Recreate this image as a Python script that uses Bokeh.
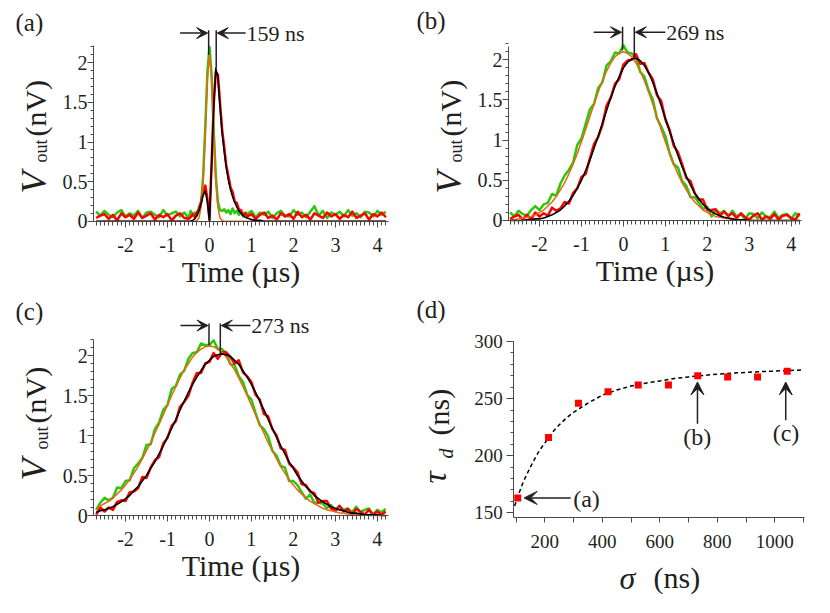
from bokeh.plotting import figure
from bokeh.models import Range1d, FixedTicker, Label, Arrow, VeeHead, CustomJSTickFormatter
from bokeh.layouts import column, row
from bokeh.embed import file_html
from bokeh.resources import INLINE

FONT = "Liberation Serif"
TXT = "#231f20"
AXC = "#4a4a4a"
GREEN = "#2ac80a"
RED = "#ff0000"
ORANGE = "#ec6410"
BLACK = "#000000"
ROT = 1.5708

# ---------------- data ----------------
# time samples (µs)
t_grid = [round(-2.7 + 0.1 * i, 2) for i in range(70)]
t_grid_a = ([round(-2.7 + 0.1 * i, 2) for i in range(23)]
            + [round(-0.45 + 0.05 * i, 2) for i in range(28)]
            + [round(1.0 + 0.1 * i, 2) for i in range(33)])

# panel (a)
green_a = [0.12, 0.07, 0.13, 0.08, 0.05, 0.11, 0.14, 0.06, 0.10, 0.07, 0.13, 0.04, 0.11, 0.12, 0.08, 0.05,
           0.14, 0.07, 0.10, 0.12, 0.06, 0.11, 0.04,
           0.13, 0.08, 0.11, 0.07, 0.18, 0.23, 0.58, 1.18, 1.88, 2.20, 1.85, 1.15, 0.57, 0.24, 0.14, 0.13,
           0.15, 0.11, 0.14, 0.09, 0.16, 0.10, 0.13, 0.08, 0.12, 0.06, 0.11, 0.09,
           0.13, 0.05, 0.11, 0.08, 0.12, 0.04, 0.10, 0.13, 0.07, 0.06, 0.14, 0.08, 0.11, 0.05, 0.12, 0.19,
           0.07, 0.13, 0.04, 0.11, 0.08, 0.12, 0.06, 0.14, 0.07, 0.10, 0.05, 0.12, 0.11, 0.06, 0.13, 0.08, 0.12]
orange_a = ([0.0] * 26
            + [0.01, 0.04, 0.18, 0.52, 1.13, 1.80, 2.10, 1.80, 1.13, 0.52, 0.18, 0.04, 0.01]
            + [0.0] * 45)
black_a = ([0.0] * 23
           + [0.0, 0.01, 0.03, 0.07, 0.13, 0.22, 0.33, 0.38, 0.25, 0.0, 0.70, 1.45, 1.93, 1.82, 1.45, 1.12,
              0.88, 0.68, 0.52, 0.40, 0.31, 0.24, 0.18, 0.13, 0.10, 0.07, 0.05, 0.04]
           + [0.02, 0.01, 0.01] + [0.0] * 30)
red_a = [0.04, 0.07, 0.09, 0.03, 0.08, 0.01, 0.10, 0.05, 0.08, 0.03, 0.11, 0.04, 0.07, 0.10, 0.02, 0.08,
         0.05, 0.09, 0.01, 0.07, 0.10, 0.04, 0.03,
         0.05, 0.09, 0.05, 0.11, 0.15, 0.25, 0.38, 0.45, 0.28, 0.02, 0.73, 1.47, 1.88, 1.85, 1.50, 1.16,
         0.94, 0.70, 0.57, 0.43, 0.37, 0.25, 0.23, 0.15, 0.14, 0.08, 0.10, 0.06,
         0.09, 0.03, 0.08, 0.11, 0.04, 0.07, 0.02, 0.10, 0.06, 0.09, 0.03, 0.12, 0.05, 0.08, 0.02, 0.10,
         0.07, 0.04, 0.11, 0.06, 0.09, 0.03, 0.08, 0.05, 0.12, 0.04, 0.07, 0.10, 0.02, 0.09, 0.06, 0.11, 0.05]

# panel (b)
green_b = [0.10, 0.05, 0.12, 0.08, 0.06, 0.13, 0.18, 0.13, 0.20, 0.22,
           0.33, 0.31, 0.46, 0.56, 0.63, 0.72, 0.94, 1.02, 1.20, 1.38,
           1.45, 1.65, 1.72, 1.93, 1.98, 2.09, 2.08, 2.18, 2.09, 2.08,
           2.03, 1.85, 1.79, 1.62, 1.51, 1.27, 1.17, 1.05, 0.84, 0.70,
           0.66, 0.49, 0.43, 0.29, 0.29, 0.22, 0.14, 0.17, 0.05, 0.13,
           0.09, 0.12, 0.05, 0.12, 0.05, 0.08, 0.02, 0.09, 0.08, 0.03,
           0.10, 0.05, 0.04, 0.11, 0.03, 0.07, 0.08, 0.02, 0.09, 0.05]
orange_b = [0.01, 0.01, 0.02, 0.03, 0.04, 0.05, 0.07, 0.10, 0.13, 0.18,
            0.23, 0.30, 0.38, 0.47, 0.58, 0.70, 0.83, 0.98, 1.13, 1.29,
            1.45, 1.60, 1.74, 1.86, 1.96, 2.04, 2.08, 2.10, 2.08, 2.04,
            1.96, 1.86, 1.74, 1.60, 1.45, 1.29, 1.13, 0.98, 0.83, 0.70,
            0.58, 0.47, 0.38, 0.30, 0.23, 0.18, 0.13, 0.10, 0.07, 0.05,
            0.04, 0.03, 0.02, 0.01, 0.01, 0.01, 0.0, 0.0, 0.0, 0.0,
            0.0, 0.0, 0.0, 0.0, 0.0, 0.0, 0.0, 0.0, 0.0, 0.0]
black_b = [0.0, 0.0, 0.0, 0.0, 0.01, 0.01, 0.02, 0.02, 0.03, 0.05,
           0.07, 0.10, 0.13, 0.18, 0.24, 0.31, 0.40, 0.50, 0.62, 0.75,
           0.90, 1.05, 1.21, 1.37, 1.53, 1.67, 1.79, 1.90, 1.97, 2.01,
           2.02, 1.99, 1.93, 1.84, 1.72, 1.58, 1.43, 1.27, 1.11, 0.96,
           0.81, 0.67, 0.55, 0.44, 0.34, 0.27, 0.20, 0.15, 0.11, 0.08,
           0.06, 0.04, 0.03, 0.02, 0.01, 0.01, 0.01, 0.0, 0.0, 0.0,
           0.0, 0.0, 0.0, 0.0, 0.0, 0.0, 0.0, 0.0, 0.0, 0.0]
red_b = [0.02, 0.05, 0.07, 0.01, 0.07, 0.01, 0.10, 0.05, 0.09, 0.06,
         0.16, 0.12, 0.15, 0.23, 0.21, 0.34, 0.40, 0.54, 0.58, 0.77,
         0.95, 1.04, 1.19, 1.43, 1.53, 1.70, 1.76, 1.94, 1.99, 2.00,
         2.07, 1.95, 1.96, 1.84, 1.76, 1.56, 1.49, 1.26, 1.13, 0.93,
         0.85, 0.70, 0.53, 0.49, 0.34, 0.26, 0.26, 0.13, 0.13, 0.14,
         0.06, 0.11, 0.06, 0.09, 0.03, 0.09, 0.04, 0.01, 0.06, 0.09,
         0.01, 0.05, 0.02, 0.08, 0.01, 0.06, 0.07, 0.03, 0.01, 0.09]

# panel (c)
green_c = [0.07, 0.16, 0.22, 0.19, 0.22, 0.35, 0.34, 0.43, 0.44, 0.59,
           0.65, 0.72, 0.88, 0.89, 1.08, 1.16, 1.32, 1.38, 1.58, 1.62,
           1.76, 1.81, 1.96, 2.03, 2.04, 2.15, 2.13, 2.13, 2.19, 2.08,
           2.08, 2.03, 1.89, 1.88, 1.74, 1.67, 1.51, 1.45, 1.28, 1.13,
           1.08, 0.99, 0.81, 0.75, 0.62, 0.60, 0.43, 0.43, 0.38, 0.29,
           0.21, 0.26, 0.16, 0.16, 0.15, 0.09, 0.13, 0.05, 0.12, 0.07,
           0.09, 0.04, 0.11, 0.04, 0.07, 0.09, 0.01, 0.07, 0.04, 0.08]
orange_c = [0.09, 0.12, 0.15, 0.18, 0.22, 0.27, 0.32, 0.38, 0.45, 0.53,
            0.61, 0.71, 0.81, 0.91, 1.03, 1.14, 1.26, 1.38, 1.50, 1.61,
            1.72, 1.82, 1.90, 1.98, 2.04, 2.08, 2.11, 2.12, 2.11, 2.08,
            2.04, 1.98, 1.90, 1.82, 1.72, 1.61, 1.50, 1.38, 1.26, 1.14,
            1.03, 0.91, 0.81, 0.71, 0.61, 0.53, 0.45, 0.38, 0.32, 0.27,
            0.22, 0.18, 0.15, 0.12, 0.09, 0.07, 0.06, 0.05, 0.03, 0.03,
            0.02, 0.02, 0.01, 0.01, 0.01, 0.0, 0.0, 0.0, 0.0, 0.0]
black_c = [0.04, 0.06, 0.07, 0.09, 0.11, 0.14, 0.17, 0.21, 0.25, 0.31,
           0.36, 0.43, 0.50, 0.59, 0.67, 0.77, 0.87, 0.98, 1.09, 1.20,
           1.32, 1.43, 1.54, 1.64, 1.73, 1.81, 1.89, 1.94, 1.99, 2.01,
           2.02, 2.01, 1.99, 1.94, 1.89, 1.81, 1.73, 1.64, 1.54, 1.43,
           1.32, 1.20, 1.09, 0.98, 0.87, 0.77, 0.67, 0.59, 0.50, 0.43,
           0.36, 0.31, 0.25, 0.21, 0.17, 0.14, 0.11, 0.09, 0.07, 0.06,
           0.04, 0.03, 0.03, 0.02, 0.01, 0.01, 0.01, 0.01, 0.0, 0.0]
red_c = [0.01, 0.10, 0.05, 0.10, 0.07, 0.17, 0.19, 0.18, 0.29, 0.30,
         0.34, 0.48, 0.47, 0.60, 0.69, 0.73, 0.90, 0.97, 1.12, 1.18,
         1.36, 1.42, 1.50, 1.66, 1.78, 1.78, 1.90, 1.92, 2.03, 1.96,
         2.04, 2.04, 1.98, 1.90, 1.94, 1.79, 1.74, 1.67, 1.51, 1.45,
         1.27, 1.24, 1.08, 1.00, 0.84, 0.82, 0.65, 0.60, 0.54, 0.39,
         0.38, 0.30, 0.28, 0.16, 0.18, 0.18, 0.09, 0.06, 0.12, 0.05,
         0.08, 0.01, 0.08, 0.05, 0.01, 0.07, 0.01, 0.05, 0.01, 0.05]

# delay markers: (green peak, red peak, green peak height, red peak height, label)
delay_a = (-0.02, 0.16, 2.10, 1.93, "159 ns")
delay_b = (-0.02, 0.26, 2.12, 2.03, "269 ns")
delay_c = (-0.01, 0.26, 2.13, 2.03, "273 ns")

# panel (d)
sigma_pts = [106, 213, 317, 420, 525, 630, 732, 836, 940, 1043]
tau_pts = [163, 216, 246, 256, 262, 262, 270, 269, 269, 274]
fit_sigma = [95, 110, 125, 140, 160, 180, 200, 225, 250, 275, 300, 350, 400, 450, 500, 550,
             600, 650, 700, 750, 800, 850, 900, 950, 1000, 1050, 1100]
fit_tau = [156, 167, 177, 185, 195, 204, 211, 220, 227, 233, 238, 246, 253, 257.5, 261, 263.5,
           265.5, 267.5, 269, 270.3, 271.3, 272.2, 273, 273.6, 274.1, 274.6, 275]

x_major = [-2, -1, 0, 1, 2, 3, 4]
x_minor = [round(-2.7 + 0.1 * i, 1) for i in range(70)]
y_major = [0, 0.5, 1, 1.5, 2]
y_minor = [round(0.1 * i, 1) for i in range(23)]


# ---------------- helpers ----------------
def base_fig(xr, yr, w, h, x_axis_at, y_axis_at, xbounds, ybounds):
    p = figure(x_range=Range1d(*xr), y_range=Range1d(*yr), width=w, height=h,
               min_border=0, min_border_left=0, min_border_right=0,
               min_border_top=0, min_border_bottom=0,
               output_backend="svg", toolbar_location=None,
               outline_line_color=None, background_fill_color="white",
               border_fill_color="white")
    p.xgrid.visible = False
    p.ygrid.visible = False
    p.xaxis.fixed_location = x_axis_at
    p.yaxis.fixed_location = y_axis_at
    p.xaxis.bounds = xbounds
    p.yaxis.bounds = ybounds
    for ax in (p.xaxis[0], p.yaxis[0]):
        ax.axis_line_color = AXC
        ax.axis_line_width = 1
        ax.major_tick_line_color = AXC
        ax.minor_tick_line_color = AXC
        ax.major_tick_in = 0
        ax.minor_tick_in = 0
        ax.major_label_text_font = FONT
        ax.major_label_text_color = TXT
        ax.formatter = CustomJSTickFormatter(code="return tick.toString();")
    return p


def text(p, x, y, s, size, italic=False, angle=0.0, align="left", baseline="middle"):
    p.add_layout(Label(x=x, y=y, text=s, text_font=FONT, text_font_size=f"{size}px",
                       text_font_style="italic" if italic else "normal", text_color=TXT,
                       angle=angle, text_align=align, text_baseline=baseline))


def arrow(p, x0, y0, x1, y1, size=11):
    p.add_layout(Arrow(end=VeeHead(size=size, fill_color=TXT, line_color=TXT, line_width=1),
                       x_start=x0, y_start=y0, x_end=x1, y_end=y1,
                       line_color=TXT, line_width=1.5))


def trace_panel(xr, yr, w, h, y_axis_at, xbounds, ybound, t, green, red, orange, black):
    p = base_fig(xr, yr, w, h, -0.005, y_axis_at, xbounds, (-0.005, ybound))
    p.xaxis.ticker = FixedTicker(ticks=x_major, minor_ticks=x_minor)
    p.yaxis.ticker = FixedTicker(ticks=y_major, minor_ticks=y_minor)
    p.xaxis.major_tick_out = 6
    p.xaxis.minor_tick_out = 4
    p.yaxis.major_tick_out = 6
    p.yaxis.minor_tick_out = 3
    p.xaxis.major_label_text_font_size = "20px"
    p.yaxis.major_label_text_font_size = "20px"
    p.xaxis.major_label_standoff = 10
    p.yaxis.major_label_standoff = 0
    p.xaxis.axis_label = "Time (µs)"
    p.xaxis.axis_label_text_font = FONT
    p.xaxis.axis_label_text_font_size = "30px"
    p.xaxis.axis_label_text_font_style = "normal"
    p.xaxis.axis_label_text_color = TXT
    p.xaxis.axis_label_standoff = 0
    p.line(t, green, color=GREEN, line_width=2.5, line_join="round")
    p.line(t, red, color=RED, line_width=2.5, line_join="round")
    p.line(t, orange, color=ORANGE, line_width=1.5, line_join="round")
    p.line(t, black, color=BLACK, line_width=1.6, line_join="round")
    return p


def delay_marks(p, d, ytop, yarr, xl_start, xr_start, dx):
    xg, xr_, hg, hr, lab = d
    p.segment(x0=[xg, xr_], y0=[hg, hr], x1=[xg, xr_], y1=[ytop, ytop], color=TXT, line_width=1.5)
    arrow(p, xl_start, yarr, xg - dx, yarr)
    arrow(p, xr_start, yarr, xr_ + dx, yarr)
    text(p, xr_start + 0.02, yarr, lab, 22)


def ylabel_v(p, xv, xs, xn, yv, yo, yn):
    text(p, xv, yv, "V", 36, italic=True, angle=ROT)
    text(p, xs, yo, "out", 18, angle=ROT)
    text(p, xn, yn, "(nV)", 30, angle=ROT)


# top row occupies 0..296 px, bottom row 296..613 px
# ---------------- panel (a) ----------------
pa = trace_panel((-4.976, 4.905), (-0.951, 2.787), 415, 296, -2.762, (-2.762, 4.26), 2.22,
                 t_grid_a, green_a, red_a, orange_a, black_a)
delay_marks(pa, delay_a, 2.41, 2.375, -0.70, 0.86, 0.025)
ylabel_v(pa, -4.190, -4.0, -4.143, 0.350, 0.741, 1.069)
text(pa, -4.619, 2.503, "(a)", 25)

# ---------------- panel (b) ----------------
pb = trace_panel((-4.956, 4.937), (-0.946, 2.738), 415, 296, -2.739, (-2.739, 4.25), 2.17,
                 t_grid, green_b, red_b, orange_b, black_b)
delay_marks(pb, delay_b, 2.41, 2.343, -0.71, 1.0, 0.025)
ylabel_v(pb, -4.169, -3.979, -4.122, 0.336, 0.722, 1.045)
text(pb, -4.932, 2.489, "(b)", 25)

# ---------------- panel (c) ----------------
pc = trace_panel((-4.98, 4.913), (-1.225, 2.7375), 415, 317, -2.758, (-2.758, 4.26), 2.2,
                 t_grid, green_c, red_c, orange_c, black_c)
delay_marks(pc, delay_c, 2.40, 2.375, -0.69, 0.98, 0.025)
ylabel_v(pc, -4.193, -4.002, -4.145, 0.4375, 0.825, 1.15)
text(pc, -4.622, 2.55, "(c)", 25)

# ---------------- panel (d) ----------------
pd = base_fig((-249.7, 1193.7), (61.8, 339.4), 415, 317, 145.6, 92.2, (92.2, 1104), (145.6, 300))
pd.xaxis.ticker = FixedTicker(ticks=[200, 400, 600, 800, 1000], minor_ticks=[100, 300, 500, 700, 900, 1100])
pd.xaxis.major_tick_out = 5
pd.xaxis.minor_tick_out = 5
pd.yaxis.ticker = FixedTicker(ticks=[150, 200, 250, 300], minor_ticks=list(range(150, 301, 10)))
pd.yaxis.major_tick_out = 7
pd.yaxis.minor_tick_out = 3
pd.xaxis.major_label_text_font_size = "19px"
pd.yaxis.major_label_text_font_size = "19px"
pd.xaxis.major_label_standoff = 12
pd.yaxis.major_label_standoff = 4
pd.line(fit_sigma, fit_tau, line_dash="4 3", color=BLACK, line_width=1.5)
pd.scatter(sigma_pts, tau_pts, marker="square", size=7, fill_color=RED, line_color=None)
arrow(pd, 290, 163, 128, 163, size=13)
arrow(pd, 731, 228, 731, 264.5, size=13)
arrow(pd, 1038, 231, 1038, 264.5, size=13)
text(pd, 345, 162.5, "(a)", 24, align="center")
text(pd, 730.1, 216.8, "(b)", 24, align="center")
text(pd, 1039, 219.9, "(c)", 24, align="center")
# axis titles
text(pd, -183.7, 175.7, "τ", 34, italic=True, angle=ROT)
text(pd, -141.9, 197.5, "d", 20, italic=True, angle=ROT)
text(pd, -170.4, 217.7, "(ns)", 30, angle=ROT)
text(pd, 459.8, 93.3, "σ", 32, italic=True)
text(pd, 578.1, 93.3, "(ns)", 30)
text(pd, -246.3, 328.0, "(d)", 25)

layout = column(row(pa, pb), row(pc, pd))
open("out.html", "w").write(file_html(layout, INLINE))
